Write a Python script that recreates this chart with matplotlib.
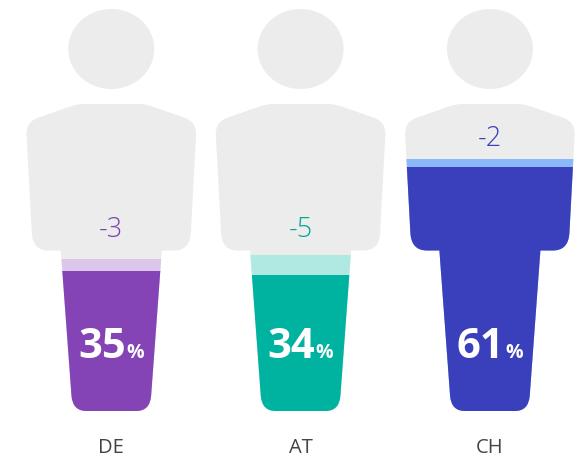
import matplotlib
matplotlib.use("Agg")
import matplotlib.pyplot as plt
from matplotlib.path import Path
from matplotlib.patches import PathPatch, Ellipse

# ---- data ----
countries = ["DE", "AT", "CH"]
values = [35, 34, 61]
changes = [-3, -5, -2]
previous = [v - c for v, c in zip(values, changes)]

# ---- style ----
dark_colors = ["#8444b5", "#00b3a0", "#3a3fbb"]
light_colors = ["#dcc6ea", "#b0e8e2", "#8ab8f8"]
change_colors = ["#7f3fb0", "#00a896", "#3a3fbb"]
GREY = "#ececec"
FONT = "Open Sans"

W, H = 580, 459
PX_PER_UNIT = 189.3      # horizontal distance between figures
PX_PER_PCT = 4.0         # pixels for one percentage point
BASE_PX = 411            # pixel row of 0 %
X0_PX = 111.3            # pixel column of first figure


def pct(y_px):
    return (BASE_PX - y_px) / PX_PER_PCT


def u(dx_px):
    return dx_px / PX_PER_UNIT


fig = plt.figure(figsize=(W / 100, H / 100), dpi=100)
ax = fig.add_axes([0, 0, 1, 1])
ax.set_xlim(-u(X0_PX), -u(X0_PX) + u(W))
ax.set_ylim(pct(H), pct(0))
ax.axis("off")

# silhouette outline, right half, from the top centre downwards:
# each segment is a straight end point, or a (control, end) pair for a rounded corner
START = (28, 104)
SEGMENTS = [
    ((34, 104), (41, 106.5)),
    ((74, 118)),
    ((85, 122), (84.8, 134)),
    ((79.5, 233)),
    ((78.5, 250.5), (63, 250.5)),
    ((50.5, 250.5)),
    ((39.8, 396)),
    ((38.5, 411), (25, 411)),
]


def body_path(cx):
    def pt(p, sign):
        return (cx + sign * u(p[0]), pct(p[1]))

    verts = [pt(START, 1)]
    codes = [Path.MOVETO]
    points = [START]
    for seg in SEGMENTS:
        if isinstance(seg[0], tuple):
            verts += [pt(seg[0], 1), pt(seg[1], 1)]
            codes += [Path.CURVE3, Path.CURVE3]
            points.append(seg[1])
        else:
            verts.append(pt(seg, 1))
            codes.append(Path.LINETO)
            points.append(seg)
    # across the foot, then back up the mirrored side
    verts.append(pt(points[-1], -1))
    codes.append(Path.LINETO)
    for k in range(len(SEGMENTS) - 1, -1, -1):
        seg = SEGMENTS[k]
        if isinstance(seg[0], tuple):
            verts += [pt(seg[0], -1), pt(points[k], -1)]
            codes += [Path.CURVE3, Path.CURVE3]
        else:
            verts.append(pt(points[k], -1))
            codes.append(Path.LINETO)
    verts.append(verts[0])
    codes.append(Path.CLOSEPOLY)
    return Path(verts, codes)


LABEL_ROW = 453          # baseline of the country labels
VALUE_ROW = 358          # baseline of the big numbers
CHANGE_ROWS = [237, 237, 146]
GAP_PX = 0.5

renderer = fig.canvas.get_renderer()

for i, name in enumerate(countries):
    head = Ellipse((i, pct(49)), 2 * u(43), 80 / PX_PER_PCT, fc=GREY, ec="none")
    ax.add_patch(head)
    body = PathPatch(body_path(i), fc=GREY, ec="none")
    ax.add_patch(body)
    width = 2 * u(90)
    for top, color in ((previous[i], light_colors[i]), (values[i], dark_colors[i])):
        bars = ax.bar(i, top, width=width, bottom=0, color=color, linewidth=0)
        bars[0].set_clip_path(body)

    # big number and small % sign, centred together
    num = ax.text(i, pct(VALUE_ROW), f"{values[i]}", ha="left", va="baseline",
                  color="white", fontsize=30, fontweight="bold", family=FONT)
    sign = ax.text(i, pct(VALUE_ROW), "%", ha="left", va="baseline",
                   color="white", fontsize=14, fontweight="bold", family=FONT)
    w_num = num.get_window_extent(renderer).width
    w_sign = sign.get_window_extent(renderer).width
    left = -(w_num + GAP_PX + w_sign) / 2
    num.set_x(i + u(left))
    sign.set_x(i + u(left + w_num + GAP_PX))

    ax.text(i, pct(CHANGE_ROWS[i]), f"{changes[i]}", ha="center", va="baseline",
            color=change_colors[i], fontsize=19.5, family=FONT, fontweight="light")
    ax.text(i, pct(LABEL_ROW), name, ha="center", va="baseline",
            color="#444444", fontsize=14.5, family=FONT)

fig.savefig("out.png", dpi=100, facecolor="white")
